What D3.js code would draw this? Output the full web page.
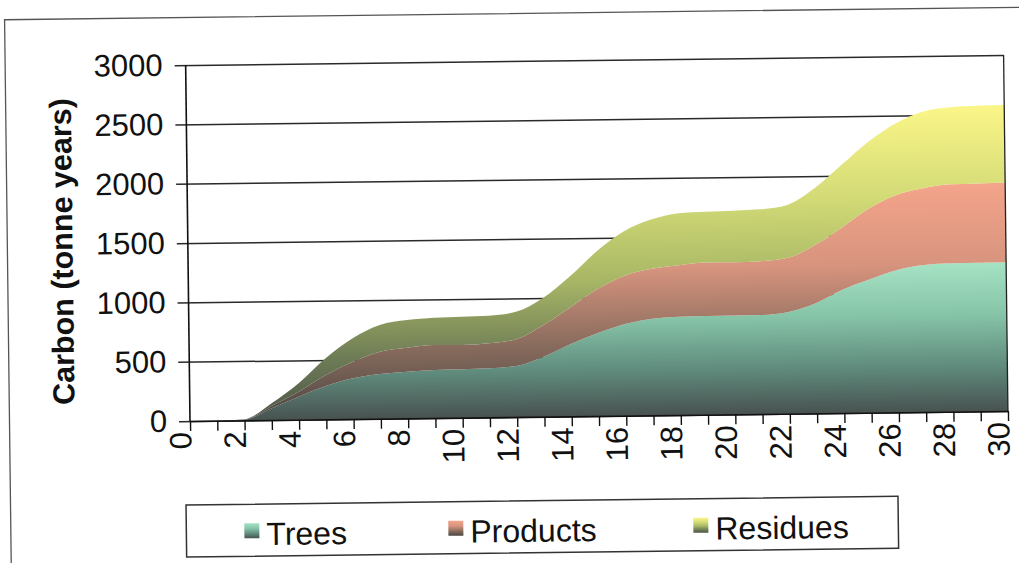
<!DOCTYPE html>
<html>
<head>
<meta charset="utf-8">
<script src="https://cdn.jsdelivr.net/npm/d3@7"></script>
<style>
  body { margin: 0; background: #fff; }
  text { font-family: Arial, "Liberation Sans", sans-serif; fill: #111; }
</style>
</head>
<body>
<svg id="chart" width="1019" height="563"></svg>
<script>
// Carbon stored (tonne years) by pool, years 0..30
const years = d3.range(0, 31);
const trees = [0, 0, 5, 100, 194, 281, 343, 376, 393, 404, 408, 413, 430, 506, 610, 700,
               773, 815, 828, 832, 832, 834, 857, 927, 1040, 1124, 1200, 1239, 1250, 1253, 1254];
const products = [0, 0, 2, 18, 42, 93, 140, 188, 202, 211, 204, 211, 225, 266, 310, 370,
                  407, 420, 434, 450, 449, 453, 456, 492, 524, 598, 632, 647, 666, 668, 671];
const residues = [0, 0, 2, 23, 71, 140, 197, 225, 233, 230, 239, 233, 232, 228, 260, 320,
                  375, 415, 438, 429, 435, 438, 446, 477, 526, 562, 603, 645, 649, 655, 654];
const seriesNames = ["Trees", "Products", "Residues"];
const yTicks = [0, 500, 1000, 1500, 2000, 2500, 3000];
const xLabelTicks = d3.range(0, 31, 2);
const xMinorTicks = d3.range(0, 31, 1);

// Fill gradients: light at the top of each shape, dark grey at its base
const gradients = {
  Trees:    [[0, "#a6e2c4"], [0.35, "#86c4a8"], [0.7, "#5f8a7c"], [1, "#485250"]],
  Products: [[0, "#f4a48a"], [0.35, "#d8947e"], [0.7, "#866a5c"], [1, "#4a4542"]],
  Residues: [[0, "#fbf688"], [0.3, "#d2da76"], [0.55, "#a9b866"], [0.8, "#6e7c56"], [1, "#4c5448"]]
};

const svg = d3.select("#chart");
const defs = svg.append("defs");
Object.entries(gradients).forEach(([name, stops]) => {
  const g = defs.append("linearGradient")
    .attr("id", "grad-" + name)
    .attr("x1", 0).attr("y1", 0).attr("x2", 0).attr("y2", 1);
  stops.forEach(([o, c]) => g.append("stop").attr("offset", o).attr("stop-color", c));
});

const plot = { left: 190, right: 1008, top: 65, bottom: 421 };
const x = d3.scaleLinear().domain([0, 30]).range([plot.left, plot.right]);
const y = d3.scaleLinear().domain([0, 3000]).range([plot.bottom, plot.top]);

// whole sheet sits at a slight tilt
const root = svg.append("g").attr("transform", `rotate(-0.7, ${plot.left}, ${plot.bottom})`);

// outer chart frame
root.append("rect")
  .attr("x", 9.5).attr("y", 17.5).attr("width", 1040).attr("height", 600)
  .attr("fill", "none").attr("stroke", "#555").attr("stroke-width", 1.3);

// horizontal gridlines (with outward tick on the value axis)
const yAxis = d3.axisLeft(y).tickValues(yTicks)
  .tickSize(-(plot.right - plot.left)).tickSizeOuter(0).tickPadding(12)
  .tickFormat(d3.format("d"));
const yG = root.append("g").attr("transform", `translate(${plot.left},0)`).call(yAxis);
yG.select(".domain").remove();
yG.selectAll(".tick line").attr("stroke", "#2a2a2a").attr("stroke-width", 1.5)
  .attr("x1", -11);
yG.selectAll(".tick text").style("font-size", "31px").attr("fill", "#111")
  .attr("x", -23);

// stacked areas
const table = years.map((yr, i) => ({ year: yr, Trees: trees[i], Products: products[i], Residues: residues[i] }));
const stack = d3.stack().keys(seriesNames)(table);
const area = d3.area()
  .x(d => x(d.data.year))
  .y0(d => y(d[0]))
  .y1(d => y(d[1]))
  .curve(d3.curveMonotoneX);
root.append("g").selectAll("path").data(stack).join("path")
  .attr("d", area)
  .attr("fill", d => `url(#grad-${d.key})`);

// plot border on the right
root.append("line")
  .attr("x1", plot.right).attr("x2", plot.right)
  .attr("y1", plot.top).attr("y2", plot.bottom)
  .attr("stroke", "#222").attr("stroke-width", 1.3);

// value axis line
root.append("line")
  .attr("x1", plot.left).attr("x2", plot.left)
  .attr("y1", plot.top).attr("y2", plot.bottom)
  .attr("stroke", "#111").attr("stroke-width", 1.6);

// category axis: a tick at every year, a label every second year
const xAxisMinor = d3.axisBottom(x).tickValues(xMinorTicks).tickSize(10).tickSizeOuter(0).tickFormat("");
const xG = root.append("g").attr("transform", `translate(0,${plot.bottom})`).call(xAxisMinor);
xG.select(".domain").attr("stroke", "#111").attr("stroke-width", 1.6);
xG.selectAll(".tick line").attr("stroke", "#111").attr("stroke-width", 1.4);

root.append("g").selectAll("text").data(xLabelTicks).join("text")
  .attr("transform", d => `translate(${x(d)},${plot.bottom + 11}) rotate(-90)`)
  .attr("text-anchor", "end")
  .attr("dy", "0.04em")
  .style("font-size", "31px")
  .text(d => d);

// value axis title
root.append("text")
  .attr("transform", "translate(64,250) rotate(-90)")
  .attr("text-anchor", "middle")
  .attr("dy", "0.35em")
  .style("font-size", "30.5px")
  .style("font-weight", "bold")
  .text("Carbon (tonne years)");

// legend
const legend = root.append("g");
legend.append("rect")
  .attr("x", 185).attr("y", 505).attr("width", 712).attr("height", 52)
  .attr("fill", "#fff").attr("stroke", "#333").attr("stroke-width", 1.5);
const legendX = [243, 447, 692];
seriesNames.forEach((name, i) => {
  legend.append("rect")
    .attr("x", legendX[i]).attr("y", 524).attr("width", 15).attr("height", 15)
    .attr("fill", `url(#grad-${name})`);
  legend.append("text")
    .attr("x", legendX[i] + 22).attr("y", 546)
    .style("font-size", "32px")
    .text(name);
});
</script>
</body>
</html>
